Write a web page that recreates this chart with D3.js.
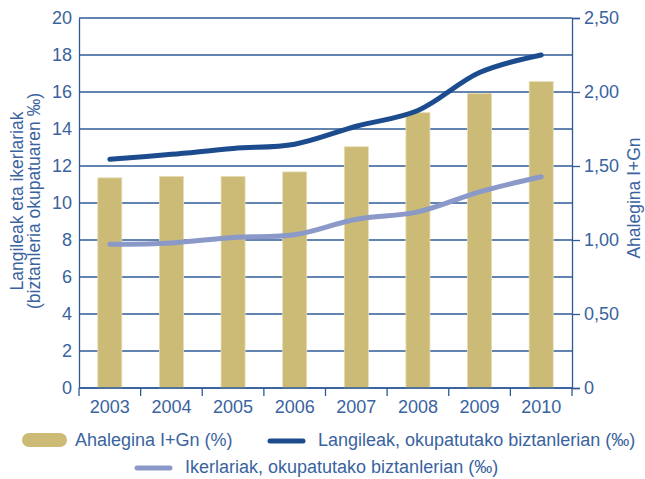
<!DOCTYPE html>
<html>
<head>
<meta charset="utf-8">
<script src="https://cdn.jsdelivr.net/npm/d3@7"></script>
<style>
  body { margin: 0; background: #fff; }
  text { font-family: "Liberation Sans", Arial, sans-serif; fill: #3a63a0; }
</style>
</head>
<body>
<script>
// years and the three series
const years = ["2003", "2004", "2005", "2006", "2007", "2008", "2009", "2010"];
const ahalegina = [1.42, 1.43, 1.43, 1.46, 1.63, 1.86, 1.99, 2.07];      // %  (right axis)
const langileak = [12.36, 12.63, 12.95, 13.18, 14.15, 15.0, 17.05, 18.0]; // ‰ (left axis)
const ikerlariak = [7.77, 7.84, 8.14, 8.28, 9.12, 9.52, 10.6, 11.42];     // ‰ (left axis)
const leftTicks = [0, 2, 4, 6, 8, 10, 12, 14, 16, 18, 20];
const rightTicks = [0, 0.5, 1, 1.5, 2, 2.5];

const w = 645, h = 479;
const plotLeft = 79, plotRight = 572, plotTop = 18, plotBottom = 388;
const axisColor = "#2f5a97";
const fs = 18;

const svg = d3.select("body").append("svg")
  .attr("width", w)
  .attr("height", h);

const x = d3.scaleBand().domain(years).range([plotLeft, plotRight]).padding(0);
const yL = d3.scaleLinear().domain([0, 20]).range([plotBottom, plotTop]);
const yR = d3.scaleLinear().domain([0, 2.5]).range([plotBottom, plotTop]);

// grid lines
svg.append("g").selectAll("line")
  .data(leftTicks)
  .enter().append("line")
  .attr("x1", plotLeft).attr("x2", plotRight)
  .attr("y1", d => yL(d)).attr("y2", d => yL(d))
  .attr("stroke", axisColor).attr("stroke-width", 1.3);

// bars
const bw = x.bandwidth() * 0.39;
svg.append("g").selectAll("rect")
  .data(years)
  .enter().append("rect")
  .attr("x", d => x(d) + x.bandwidth() / 2 - bw / 2)
  .attr("y", (d, i) => yR(ahalegina[i]))
  .attr("width", bw)
  .attr("height", (d, i) => yR(0) - yR(ahalegina[i]))
  .attr("fill", "#cbbb77")
  .attr("stroke", "#e6ddb2")
  .attr("stroke-width", 0.8);

// left axis
const axL = svg.append("g")
  .attr("transform", "translate(" + plotLeft + ",0)")
  .call(d3.axisLeft(yL).tickValues(leftTicks).tickSize(0).tickPadding(7));
// right axis
const axR = svg.append("g")
  .attr("transform", "translate(" + plotRight + ",0)")
  .call(d3.axisRight(yR).tickValues(rightTicks).tickSize(8).tickPadding(4)
    .tickFormat(d => d === 0 ? "0" : d3.format(".2f")(d).replace(".", ",")));
// bottom axis, ticks on the band edges
const axB = svg.append("g")
  .attr("transform", "translate(0," + plotBottom + ")")
  .call(d3.axisBottom(x).tickSize(0).tickPadding(12));

svg.append("g").selectAll("line")
  .data(d3.range(years.length + 1))
  .enter().append("line")
  .attr("x1", i => plotLeft + i * x.bandwidth())
  .attr("x2", i => plotLeft + i * x.bandwidth())
  .attr("y1", plotBottom).attr("y2", plotBottom + 8)
  .attr("stroke", axisColor).attr("stroke-width", 1.3);

[axL, axR, axB].forEach(function(ax) {
  ax.selectAll(".domain").attr("stroke", axisColor).attr("stroke-width", 1.3);
  ax.selectAll(".tick line").attr("stroke", axisColor).attr("stroke-width", 1.3);
  ax.selectAll(".tick text").style("font-family", '"Liberation Sans", Arial, sans-serif')
    .attr("fill", "#3a63a0").attr("font-size", fs);
});
axB.selectAll(".domain").attr("d", "M" + plotLeft + ",0H" + plotRight);

// lines
const line = d3.line()
  .x((d, i) => x(years[i]) + x.bandwidth() / 2)
  .y(d => yL(d))
  .curve(d3.curveCatmullRom.alpha(0.5));

svg.append("path").datum(ikerlariak)
  .attr("d", line).attr("fill", "none")
  .attr("stroke", "#8a99c7").attr("stroke-width", 5).attr("stroke-linecap", "round");
svg.append("path").datum(langileak)
  .attr("d", line).attr("fill", "none")
  .attr("stroke", "#1d4c8e").attr("stroke-width", 5).attr("stroke-linecap", "round");

// axis titles
svg.append("text")
  .attr("transform", "translate(23,201) rotate(-90)")
  .attr("text-anchor", "middle").attr("font-size", 17.5)
  .text("Langileak eta ikerlariak");
svg.append("text")
  .attr("transform", "translate(40,201) rotate(-90)")
  .attr("text-anchor", "middle").attr("font-size", 17.5)
  .text("(biztanleria okupatuaren ‰)");
svg.append("text")
  .attr("transform", "translate(640,198) rotate(-90)")
  .attr("text-anchor", "middle").attr("font-size", 17.5)
  .text("Ahalegina I+Gn");

// legend
const lg = svg.append("g");
lg.append("rect")
  .attr("x", 22).attr("y", 433).attr("width", 45).attr("height", 14).attr("rx", 7)
  .attr("fill", "#cbbb77");
lg.append("text").attr("x", 75).attr("y", 446).attr("font-size", fs)
  .text("Ahalegina I+Gn (%)");
lg.append("line")
  .attr("x1", 270).attr("x2", 303).attr("y1", 441).attr("y2", 441)
  .attr("stroke", "#1d4c8e").attr("stroke-width", 5).attr("stroke-linecap", "round");
lg.append("text").attr("x", 318).attr("y", 446).attr("font-size", fs)
  .text("Langileak, okupatutako biztanlerian (‰)");
lg.append("line")
  .attr("x1", 137).attr("x2", 170).attr("y1", 468).attr("y2", 468)
  .attr("stroke", "#8a99c7").attr("stroke-width", 5).attr("stroke-linecap", "round");
lg.append("text").attr("x", 185).attr("y", 473).attr("font-size", fs)
  .text("Ikerlariak, okupatutako biztanlerian (‰)");
</script>
</body>
</html>
